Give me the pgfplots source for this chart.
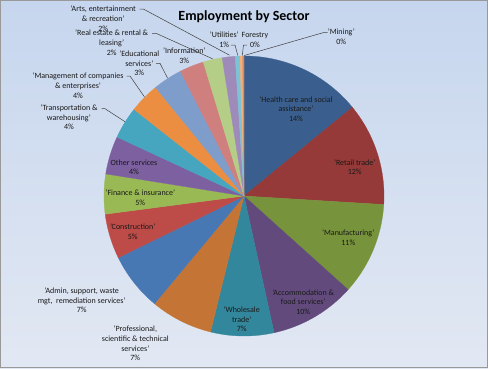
\documentclass[border=0pt]{standalone}
\usepackage{fontspec}
\setmainfont{Carlito}
\usepackage{pgfplots}
\usepackage{pgfplotstable}
\pgfplotsset{compat=1.18}

\definecolor{cHealth}{HTML}{3A5F8E}
\definecolor{cRetail}{HTML}{953A38}
\definecolor{cManuf}{HTML}{77933C}
\definecolor{cAccom}{HTML}{624B7C}
\definecolor{cWhole}{HTML}{33879C}
\definecolor{cProf}{HTML}{C47535}
\definecolor{cAdmin}{HTML}{4878B4}
\definecolor{cConst}{HTML}{BD4B48}
\definecolor{cFin}{HTML}{98B954}
\definecolor{cOther}{HTML}{7D60A0}
\definecolor{cTrans}{HTML}{46A6C0}
\definecolor{cMgmt}{HTML}{EC8E42}
\definecolor{cEduc}{HTML}{7F9DCB}
\definecolor{cInfo}{HTML}{CF7F7D}
\definecolor{cReal}{HTML}{B5CE87}
\definecolor{cArts}{HTML}{9E8BBA}
\definecolor{cUtil}{HTML}{7CC3D6}
\definecolor{cFor}{HTML}{F6AE74}
\definecolor{cMin}{HTML}{D98A6A}
\definecolor{bgTop}{HTML}{C6D6EE}
\definecolor{bgBot}{HTML}{E2E8F3}
\definecolor{lead}{HTML}{404040}

% sector share of employment (%), clockwise from 12 o'clock
\pgfplotstableread{
value col
14.1 cHealth
11.9 cRetail
10.7 cManuf
9.9 cAccom
7.3 cWhole
7.2 cProf
6.7 cAdmin
5.2 cConst
4.6 cFin
4.4 cOther
3.7 cTrans
3.5 cMgmt
3.4 cEduc
2.8 cInfo
2.2 cReal
1.5 cArts
0.55 cUtil
0.3 cFor
0.15 cMin
}\piedata

\tikzset{lbl/.style={font=\fontsize{8}{9.7}\selectfont, text=black!90, align=center, inner sep=0pt}}

\begin{document}
\begin{tikzpicture}[x=1pt,y=1pt]
\useasboundingbox (0,0) rectangle (488,368);
\shade[top color=bgTop,bottom color=bgBot] (0,0) rectangle (488,368);
\draw[gray!80,line width=0.8pt] (0.4,0.4) rectangle (487.6,367.6);
\begin{axis}[
  at={(0pt,0pt)}, anchor=south west,
  scale only axis, width=488pt, height=368pt,
  xmin=0, xmax=488, ymin=0, ymax=368,
  hide axis, clip=false,
]
\pgfplotstablegetrowsof{\piedata}\pgfmathtruncatemacro\nrows{\pgfplotsretval-1}
\def\tot{0}
\pgfplotsforeachungrouped \i in {0,...,\nrows}{%
  \pgfplotstablegetelem{\i}{value}\of\piedata
  \pgfmathsetmacro\tot{\tot+\pgfplotsretval}}
\def\cum{0}
\pgfplotsforeachungrouped \i in {0,...,\nrows}{%
  \pgfplotstablegetelem{\i}{value}\of\piedata \let\sv\pgfplotsretval
  \pgfplotstablegetelem{\i}{col}\of\piedata \let\scol\pgfplotsretval
  \pgfmathsetmacro\sa{\cum/\tot*360}%
  \pgfmathsetmacro\cum{\cum+\sv}%
  \pgfmathsetmacro\sb{\cum/\tot*360}%
  \edef\temp{\noexpand\addplot[fill=\scol, draw=\scol, line width=0.3pt, domain=\sa:\sb, samples=60, variable=\noexpand\t]
    ({244+140*sin(\noexpand\t)},{172+140*cos(\noexpand\t)}) -- (axis cs:244,172) -- cycle;}%
  \temp
}

% title
\node[font=\fontsize{14}{16}\selectfont\bfseries, anchor=base, inner sep=0pt] at (axis cs:244,347.3) {Employment by Sector};

% labels
\node[lbl] at (axis cs:296,259) {'Health care and social\\assistance'\\14\%};
\node[lbl] at (axis cs:354.7,200.8) {'Retail trade'\\12\%};
\node[lbl] at (axis cs:348.3,130.2) {'Manufacturing'\\11\%};
\node[lbl] at (axis cs:303.3,66) {'Accommodation \&\\food services'\\10\%};
\node[lbl] at (axis cs:241.7,48.7) {'Wholesale\\trade'\\7\%};
\node[lbl] at (axis cs:135.3,24.6) {'Professional,\\scientific \& technical\\services'\\7\%};
\node[lbl] at (axis cs:81.7,67.7) {'Admin, support, waste\\mgt,\ \ remediation services'\\7\%};
\node[lbl] at (axis cs:132.7,136.2) {'Construction'\\5\%};
\node[lbl] at (axis cs:140.3,170.2) {'Finance \& insurance'\\5\%};
\node[lbl] at (axis cs:134,200.8) {Other services\\4\%};
\node[lbl] at (axis cs:69,250.7) {'Transportation \&\\warehousing'\\4\%};
\node[lbl] at (axis cs:78,282.3) {'Management of companies\\\& enterprises'\\4\%};
\node[lbl] at (axis cs:139.3,304.7) {'Educational\\services'\\3\%};
\node[lbl] at (axis cs:184.3,312.2) {'Information'\\3\%};
\node[lbl] at (axis cs:111.7,325.3) {'Real estate \& rental \&\\leasing'\\2\%};
\node[lbl] at (axis cs:103.3,349.3) {'Arts, entertainment\\\& recreation'\\2\%};
\node[lbl] at (axis cs:224.3,328) {'Utilities'\\1\%};
\node[lbl] at (axis cs:255,328) {Forestry\\0\%};
\node[lbl] at (axis cs:341.3,331.5) {'Mining'\\0\%};

% leader lines
\draw[lead,line width=0.5pt] (axis cs:139.5,359) -- (axis cs:143.3,359) -- (axis cs:229.5,312.8);
\draw[lead,line width=0.5pt] (axis cs:152,334.7) -- (axis cs:156,334.7) -- (axis cs:213,309);
\draw[lead,line width=0.5pt] (axis cs:156,304.7) -- (axis cs:160,304.7) -- (axis cs:167.5,290);
\draw[lead,line width=0.5pt] (axis cs:126.5,292) -- (axis cs:130,292) -- (axis cs:144.5,271);
\draw[lead,line width=0.5pt] (axis cs:101.5,259.3) -- (axis cs:105,259.3) -- (axis cs:125,246.3);
\draw[lead,line width=0.5pt] (axis cs:231,323) -- (axis cs:235,323) -- (axis cs:237.8,312.5);
\draw[lead,line width=0.5pt] (axis cs:247,323) -- (axis cs:243.5,323) -- (axis cs:242.3,312.5);
\draw[lead,line width=0.5pt] (axis cs:327.5,335.3) -- (axis cs:323,335.3) -- (axis cs:244.2,312.5);
\end{axis}
\end{tikzpicture}
\end{document}
